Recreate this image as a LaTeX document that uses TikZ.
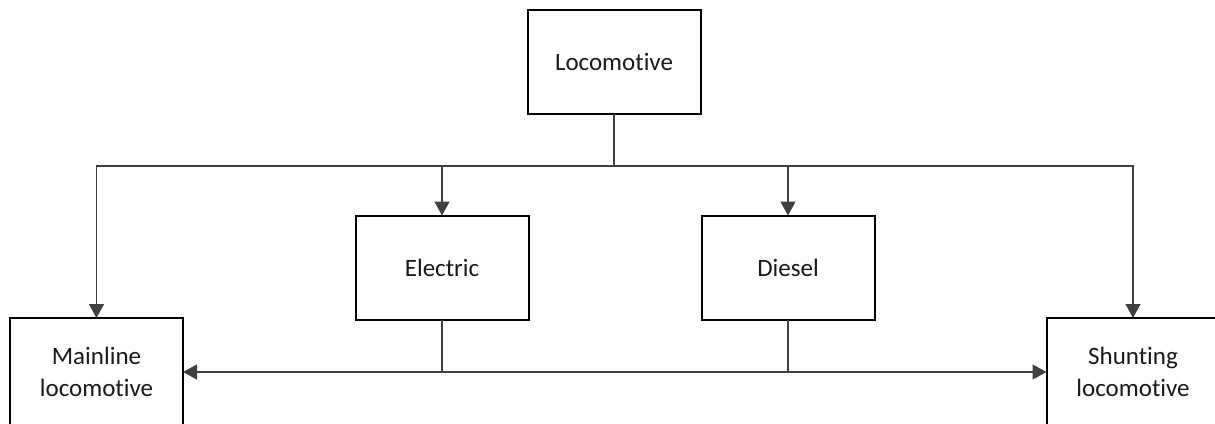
\documentclass[tikz,border=0pt]{standalone}
\usepackage{fontspec}
\setmainfont{Carlito}[Ligatures={NoCommon,NoContextual}]
\usetikzlibrary{arrows.meta}
\begin{document}
\begin{tikzpicture}[x=1pt,y=-1pt,
  box/.style={draw=black, line width=2pt, minimum width=173pt, minimum height=104pt,
    inner sep=0pt, outer sep=0pt, align=center, text=black!90,
    font=\fontsize{25}{32}\selectfont},
  conn/.style={draw=black!75, line width=1.3pt},
  arr/.style={conn, -{Triangle[width=15pt,length=14pt]}},
  darr/.style={conn, {Triangle[width=15pt,length=14pt]}-{Triangle[width=15pt,length=14pt]}}]
\useasboundingbox (0,0) rectangle (1215,423);
\clip (0,0) rectangle (1215,423);
\node[box] (loco) at (614,62) {Locomotive};
\node[box] (elec) at (442,267.5) {Electric};
\node[box] (diesel) at (788,267.5) {Diesel};
\node[box, minimum height=108pt] (main) at (96.5,372) {Mainline\\locomotive};
\node[box, minimum height=108pt] (shunt) at (1133,372) {Shunting\\locomotive};
\coordinate (J) at (614,166);
\draw[conn] (loco.south) -- (J);
\draw[arr] (J) -| (main.north);
\draw[arr] (J) -| (shunt.north);
\draw[arr] (J) -| (elec.north);
\draw[arr] (J) -| (diesel.north);
\draw[darr] (main.east) -- (shunt.west);
\draw[conn] (elec.south) -- (elec.south |- main.east);
\draw[conn] (diesel.south) -- (diesel.south |- main.east);
\end{tikzpicture}
\end{document}
